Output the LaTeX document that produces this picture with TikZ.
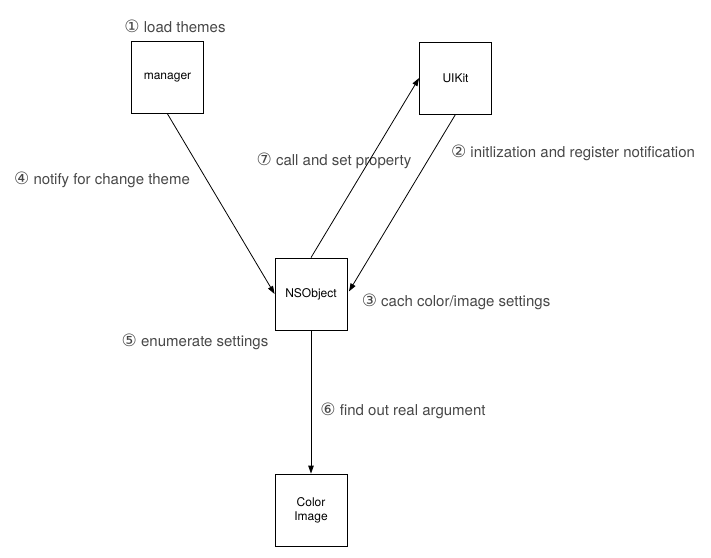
\documentclass[tikz,border=0pt]{standalone}
\usepackage{fontspec}
\setmainfont{TeX Gyre Heros}
\newfontfamily\circfont{DejaVu Sans}
\usepackage{xcolor}
\usetikzlibrary{arrows.meta, positioning}
\tikzset{
  box/.style={rectangle, draw=black, line width=0.8pt, minimum width=72pt,
    minimum height=72pt, inner sep=0pt, align=center,
    font=\fontsize{12}{14}\selectfont},
  note/.style={text=black!72, inner sep=0pt, font=\fontsize{15}{18}\selectfont},
  arrowline/.style={-{Triangle[length=8pt, width=5.5pt]}, line width=0.8pt}
}
\newcommand{\circnum}[1]{{\circfont\fontsize{17}{17}\selectfont #1}}

\begin{document}
\begin{tikzpicture}[x=1pt, y=-1pt]
  \useasboundingbox (0,0) rectangle (711,557);

  \node[box] (manager) at (167.5,77.5) {manager};
  \node[box] (uikit) at (455.5,78) {UIKit};
  \node[box] (nsobject) at (311,294) {NSObject};
  \node[box] (colorimage) at (311,510) {Color\\Image};

  \node[note] (loadthemes) at (175,26) {\circnum{①} load themes};
  \node[note] (initnote) at (573,153) {\circnum{②} initlization and register notification};
  \node[note] (cachnote) at (456,302) {\circnum{③} cach color/image settings};
  \node[note] (notifynote) at (102,180) {\circnum{④} notify for change theme};
  \node[note] (enumnote) at (195,342) {\circnum{⑤} enumerate settings};
  \node[note] (findnote) at (403,411) {\circnum{⑥} find out real argument};
  \node[note] (callnote) at (334,161) {\circnum{⑦} call and set property};

  \draw[arrowline] (manager.south) -- (nsobject.west);
  \draw[arrowline] (nsobject.north) -- (uikit.west);
  \draw[arrowline, shorten >=3pt] (uikit.south) -- (nsobject.east);
  \draw[arrowline] (nsobject.south) -- (colorimage.north);
\end{tikzpicture}
\end{document}
